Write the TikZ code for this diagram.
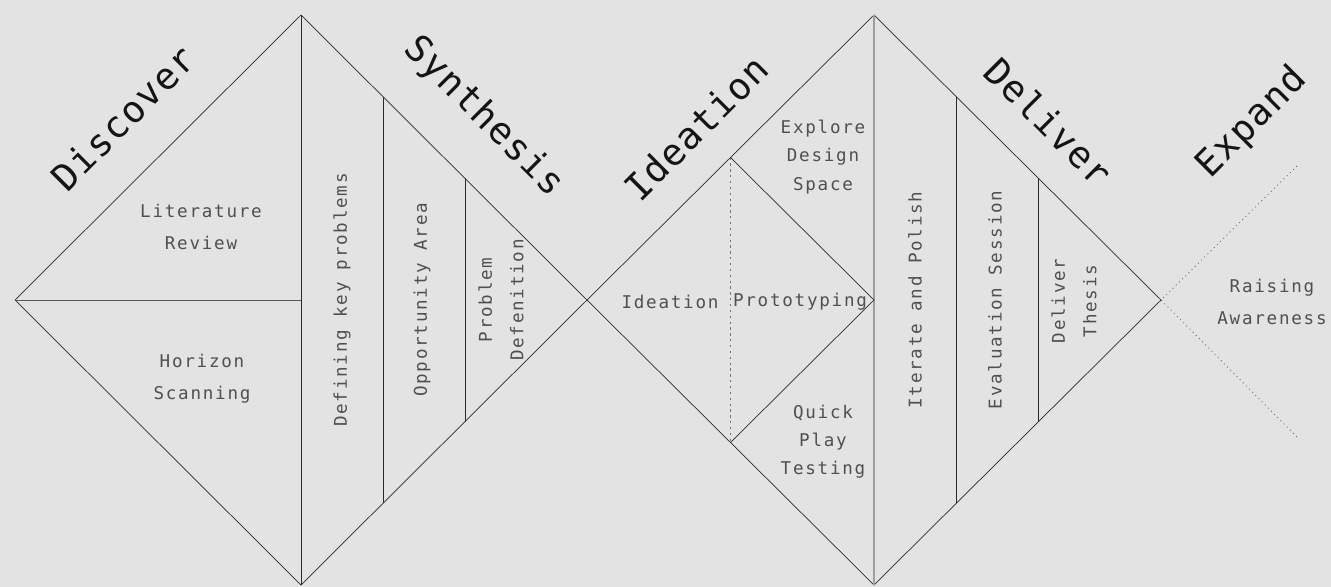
\documentclass[tikz,border=0pt]{standalone}
\usepackage{fontspec}
\usepackage{xcolor}
\usepackage{tikz}
\usetikzlibrary{calc}

\newfontfamily\labelfont[LetterSpace=10]{DejaVu Sans Mono}
\newfontfamily\phasefont[LetterSpace=3]{DejaVu Sans Mono}
\definecolor{paper}{HTML}{E3E3E3}
\definecolor{ink}{HTML}{2A2A2A}
\definecolor{softink}{HTML}{505050}

\begin{document}
\begin{tikzpicture}[x=0.03cm, y=0.03cm,
        edge/.style={ink, line width=0.6pt},
        guide/.style={black!38, line width=1.2pt},
        hint/.style={black!55, line width=0.6pt, dash pattern=on 2pt off 3pt},
        reach/.style={black!60, line width=0.7pt, dash pattern=on 0.8pt off 3pt},
        phase/.style={font={\phasefont\fontsize{31.5}{31.5}\selectfont}, text=black!92, inner sep=0pt},
        task/.style={font={\labelfont\fontsize{15}{27}\selectfont}, text=softink, align=center, inner sep=0pt},
        tasktight/.style={task, font={\labelfont\fontsize{15}{24}\selectfont}}]
        \fill[paper] (0,0) rectangle (1331,-587);
        \useasboundingbox (0,0) rectangle (1331,-587);

        % corners of the two diamonds
        \coordinate (L1) at (15,-300);
        \coordinate (T1) at (301,-15);
        \coordinate (B1) at (301,-585);
        \coordinate (C1) at (301,-300);
        \coordinate (L2) at (587,-300);
        \coordinate (T2) at (874,-15);
        \coordinate (B2) at (874,-585);
        \coordinate (C2) at (874,-300);
        \coordinate (R2) at (1161,-300);
        \coordinate (I1) at ($(L2)!0.5!(T2)$);
        \coordinate (I2) at ($(L2)!0.5!(B2)$);
        \coordinate (E1) at (1297,-166);
        \coordinate (E2) at (1297,-437);

        \draw[edge] (L1) -- (T1) -- (L2) -- (B1) -- cycle;
        \draw[edge] (L2) -- (T2) -- (R2) -- (B2) -- cycle;
        \draw[edge] (T1) -- (B1);
        \draw[edge, black!65] (L1) -- (C1);
        \draw[guide] (T2) -- (B2);
        \draw[edge] (I1) -- (C2) -- (I2);
        \draw[hint] (I1) -- (I2);
        \draw[reach] (E1) -- (R2) -- (E2);

        % converging columns
        \foreach \t/\n in {0.287/a, 0.573/b} {
            \coordinate (up1\n) at ($(T1)!\t!(L2)$);
            \coordinate (dn1\n) at ($(B1)!\t!(L2)$);
            \coordinate (up2\n) at ($(T2)!\t!(R2)$);
            \coordinate (dn2\n) at ($(B2)!\t!(R2)$);
            \draw[edge] (up1\n) -- (dn1\n);
            \draw[edge] (up2\n) -- (dn2\n);
        }

        % phases
        \node[phase, rotate=45] (discover) at (123,-118) {Discover};
        \node[phase, rotate=-45] (synthesis) at (484,-117) {Synthesis};
        \node[phase, rotate=45] (ideation) at (696,-128) {Ideation};
        \node[phase, rotate=-45] (deliver) at (1049,-122) {Deliver};
        \node[phase, rotate=45] (expand) at (1252,-123) {Expand};

        % activities
        \node[task] (review) at (201,-227) {Literature\\Review};
        \node[task] (scanning) at (202,-379) {Horizon\\Scanning};
        \node[task, rotate=90] (problems) at (342,-300) {Defining key problems};
        \node[task, rotate=90] (opportunity) at (422,-300) {Opportunity Area};
        \node[task, rotate=90] (definition) at (501,-300) {Problem\\Defenition};
        \node[task] (ideas) at (670,-302) {Ideation};
        \node[task] (prototyping) at (800,-302) {Prototyping};
        \node[tasktight] (explore) at (823,-157) {Explore\\Design\\Space};
        \node[tasktight] (playtest) at (823,-442) {Quick\\Play\\Testing};
        \node[task, rotate=90] (polish) at (915,-300) {Iterate and Polish};
        \node[task, rotate=90] (evaluation) at (995,-300) {Evaluation Session};
        \node[task, rotate=90] (thesis) at (1074,-301) {Deliver\\Thesis};
        \node[task] (awareness) at (1272,-302) {Raising\\Awareness};
    \end{tikzpicture}
\end{document}
